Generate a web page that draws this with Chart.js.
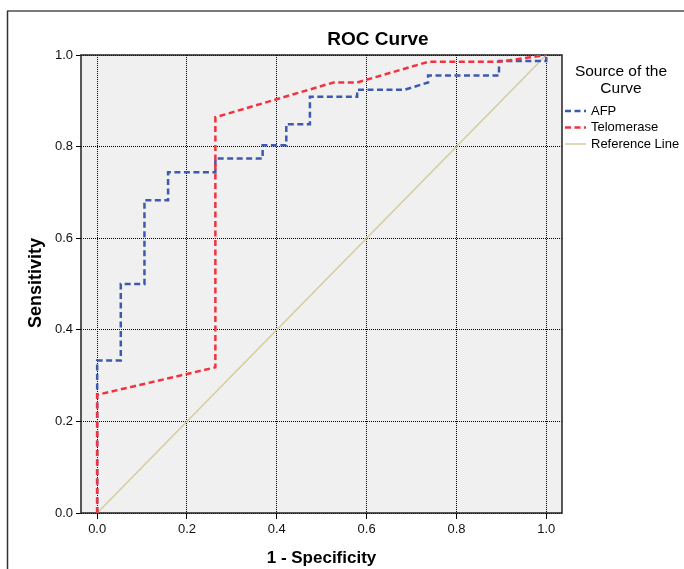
<!DOCTYPE html>
<html>
<head>
<meta charset="utf-8">
<script src="https://cdn.jsdelivr.net/npm/chart.js@4/dist/chart.umd.min.js"></script>
<style>
  html, body { margin: 0; padding: 0; background: #fff; }
  #wrap { width: 684px; height: 569px; position: relative; }
</style>
</head>
<body>
<div id="wrap"><canvas id="rocChart" width="684" height="569"></canvas></div>
<script>
// ===============================
// Data
// ===============================
const xTicks = [0.0, 0.2, 0.4, 0.6, 0.8, 1.0];
const yTicks = [0.0, 0.2, 0.4, 0.6, 0.8, 1.0];

const seriesNames = ["AFP", "Telomerase", "Reference Line"];

// AFP (1 - specificity, sensitivity)
const afpX = [0, 0, 0.0526, 0.0526, 0.1053, 0.1053, 0.1579, 0.1579, 0.2632, 0.2632, 0.3684, 0.3684,
  0.4211, 0.4211, 0.4737, 0.4737, 0.5789, 0.5789, 0.6842, 0.7368, 0.7368, 0.8947, 0.8947, 1, 1];
const afpY = [0, 0.333, 0.333, 0.5, 0.5, 0.683, 0.683, 0.744, 0.744, 0.774, 0.774, 0.803,
  0.803, 0.849, 0.849, 0.909, 0.909, 0.924, 0.924, 0.94, 0.955, 0.955, 0.987, 0.987, 1];

// Telomerase
const telX = [0, 0, 0.2632, 0.2632, 0.5263, 0.5789, 0.7368, 0.8947, 1];
const telY = [0, 0.258, 0.318, 0.864, 0.94, 0.94, 0.985, 0.985, 1];

// Reference line
const refX = [0, 1];
const refY = [0, 1];

const toPoints = (xs, ys) => xs.map((x, i) => ({ x, y: ys[i] }));

const FONT = "'Liberation Sans', Arial, sans-serif";

// ===============================
// Decorations: frame, titles, legend
// ===============================
const decorations = {
  id: "decorations",

  beforeDraw(chart) {
    const ctx = chart.ctx;
    const a = chart.chartArea;

    ctx.save();

    // outer frame
    ctx.strokeStyle = "#7a7a7a";
    ctx.lineWidth = 2;
    ctx.beginPath();
    ctx.moveTo(7, 11);
    ctx.lineTo(684, 11);
    ctx.stroke();

    ctx.strokeStyle = "#333";
    ctx.lineWidth = 1.5;
    ctx.beginPath();
    ctx.moveTo(7.5, 11);
    ctx.lineTo(7.5, 569);
    ctx.stroke();

    // plot background
    ctx.fillStyle = "#f0f0f0";
    ctx.fillRect(a.left, a.top, a.right - a.left, a.bottom - a.top);

    ctx.restore();
  },

  beforeDatasetsDraw(chart) {
    const ctx = chart.ctx;
    const a = chart.chartArea;

    ctx.save();
    ctx.strokeStyle = "#222";
    ctx.lineWidth = 1.5;
    ctx.strokeRect(a.left, a.top, a.right - a.left, a.bottom - a.top);
    ctx.restore();
  },

  afterDraw(chart) {
    const ctx = chart.ctx;
    const a = chart.chartArea;

    ctx.save();
    ctx.fillStyle = "#000";
    ctx.textBaseline = "middle";
    ctx.textAlign = "center";

    // chart title
    ctx.font = "bold 19px " + FONT;
    ctx.fillText("ROC Curve", 378, 40);

    // x axis title
    ctx.font = "bold 17px " + FONT;
    ctx.fillText("1 - Specificity", (a.left + a.right) / 2, 558);

    // y axis title
    ctx.font = "bold 18px " + FONT;
    ctx.save();
    ctx.translate(36, 283);
    ctx.rotate(-Math.PI / 2);
    ctx.fillText("Sensitivity", 0, 0);
    ctx.restore();

    // legend
    ctx.font = "15.5px " + FONT;
    ctx.fillText("Source of the", 621, 72);
    ctx.fillText("Curve", 621, 89);

    ctx.font = "13px " + FONT;
    ctx.textAlign = "left";

    chart.data.datasets.forEach((ds, i) => {
      const y = 111 + i * 16.5;

      ctx.save();
      ctx.strokeStyle = ds.borderColor;
      ctx.lineWidth = ds.borderWidth;
      ctx.setLineDash(ds.borderDash || []);
      ctx.beginPath();
      ctx.moveTo(565, y);
      ctx.lineTo(586, y);
      ctx.stroke();
      ctx.restore();

      ctx.fillStyle = "#000";
      ctx.fillText(ds.label, 591, y);
    });

    ctx.restore();
  },
};

// ===============================
// ROC Chart
// ===============================
new Chart(document.getElementById("rocChart"), {
  type: "scatter",

  data: {
    datasets: [
      {
        label: seriesNames[0],
        data: toPoints(afpX, afpY),
        borderColor: "#3d5aae",
        borderWidth: 2.5,
        borderDash: [6, 3.5],
        order: 1,
      },
      {
        label: seriesNames[1],
        data: toPoints(telX, telY),
        borderColor: "#f2333f",
        borderWidth: 2.5,
        borderDash: [6, 3.5],
        order: 0,
      },
      {
        label: seriesNames[2],
        data: toPoints(refX, refY),
        borderColor: "#d6cc9e",
        borderWidth: 1.5,
        order: 2,
      },
    ],
  },

  options: {
    responsive: false,
    animation: false,
    showLine: true,

    elements: {
      point: { radius: 0, hoverRadius: 0 },
      line: { tension: 0, fill: false },
    },

    layout: {
      padding: { top: 55, right: 122, bottom: 0, left: 0 },
    },

    plugins: {
      legend: { display: false },
      title: { display: false },
      tooltip: { enabled: false },
    },

    scales: {
      x: {
        type: "linear",
        min: -0.036,
        max: 1.035,
        afterBuildTicks: (scale) => {
          scale.ticks = xTicks.map((v) => ({ value: v }));
        },
        afterFit: (scale) => {
          scale.height = 56;
        },
        ticks: {
          color: "#111",
          font: { family: FONT, size: 13 },
          padding: 3,
          maxRotation: 0,
          callback: (v) => Number(v).toFixed(1),
        },
        grid: {
          color: "#000",
          lineWidth: 1,
          tickLength: 6,
          tickColor: "#000",
          tickBorderDash: [],
        },
        border: { display: false, dash: [1, 1] },
      },

      y: {
        type: "linear",
        min: 0,
        max: 1,
        afterBuildTicks: (scale) => {
          scale.ticks = yTicks.map((v) => ({ value: v }));
        },
        afterFit: (scale) => {
          scale.width = 81;
        },
        ticks: {
          color: "#111",
          font: { family: FONT, size: 13 },
          padding: 3,
          callback: (v) => Number(v).toFixed(1),
        },
        grid: {
          color: "#000",
          lineWidth: 1,
          tickLength: 5,
          tickColor: "#000",
          tickBorderDash: [],
        },
        border: { display: false, dash: [1, 1] },
      },
    },
  },

  plugins: [decorations],
});
</script>
</body>
</html>
